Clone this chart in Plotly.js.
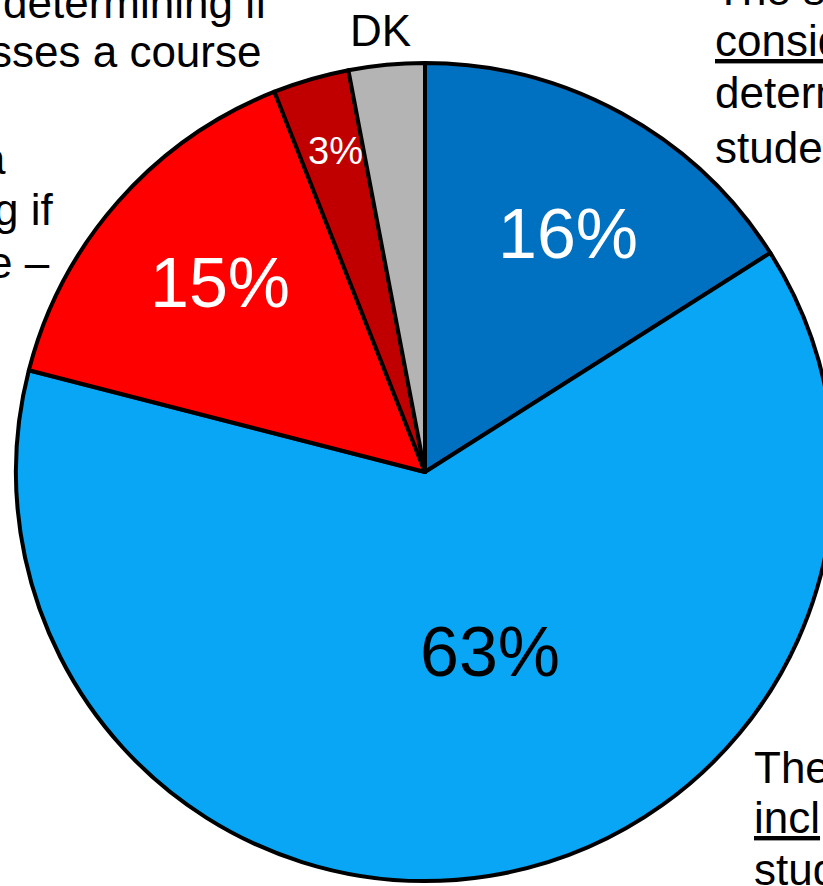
<!DOCTYPE html>
<html>
<head>
<meta charset="utf-8">
<script src="https://cdn.plot.ly/plotly-3.0.1.min.js"></script>
<style>
  html, body { margin: 0; padding: 0; width: 823px; height: 886px; overflow: hidden; background: #fff; }
  #chart { position: absolute; left: 0; top: 0; width: 1000px; height: 1000px; }
</style>
</head>
<body>
<div id="chart"></div>
<script>
// ---- data ----
const categories = ["Sole consideration", "Included consideration", "Major consideration", "Minor consideration", "DK"];
const values = [16, 63, 15, 3, 3];
const sliceColors = ["#0070C0", "#08A6F4", "#FF0000", "#C00000", "#B4B4B4"];
const pctTextColors = ["#FFFFFF", "#000000", "#FFFFFF", "#FFFFFF", null];

// ---- layout helpers (page pixels -> paper coords on a 1000x1000 div) ----
const W = 1000, H = 1000;
const px = x => x / W;
const py = y => 1 - y / H;
const FONT = "Liberation Sans, Arial, sans-serif";

const trace = {
  type: "pie",
  labels: categories,
  values: values,
  sort: false,
  direction: "clockwise",
  rotation: 0,
  textinfo: "none",
  hoverinfo: "none",
  marker: { colors: sliceColors, line: { color: "#000000", width: 4 } },
  domain: { x: [px(16), px(834)], y: [py(881), py(63)] }
};

// percentage labels inside slices
const pctPos = [[568, 234, 70], [490, 652, 70], [220, 283, 70], [335, 151, 38]];
const annotations = [];
pctPos.forEach((p, i) => {
  annotations.push({
    xref: "paper", yref: "paper", x: px(p[0]), y: py(p[1]),
    xanchor: "center", yanchor: "middle", showarrow: false,
    text: values[i] + "%",
    font: { family: FONT, size: p[2], color: pctTextColors[i] }
  });
});

// outside label text lines (partially cropped in the original)
const sideLines = [
  // [text, x, yCenter, anchor]
  ["determining if", 270, 2, "right"],
  ["sses a course", 263, 51, "right"],
  ["a", 8, 158, "right"],
  ["g if", 55, 210, "right"],
  ["e –", 52, 262, "right"],
  ["DK", 380, 30, "center"],
  ["The s", 713, -11, "left"],
  ["<u>consid</u>", 713, 40, "left"],
  ["determ", 713, 93, "left"],
  ["studen", 713, 147, "left"],
  ["The", 752, 767, "left"],
  ["<u>incl</u>", 752, 817, "left"],
  ["stud", 752, 869, "left"]
];
sideLines.forEach(l => {
  annotations.push({
    xref: "paper", yref: "paper", x: px(l[1]), y: py(l[2]),
    xanchor: l[3], yanchor: "middle", showarrow: false,
    text: l[0],
    font: { family: FONT, size: 44, color: "#000000" }
  });
});

const layout = {
  width: W, height: H,
  margin: { l: 0, r: 0, t: 0, b: 0, pad: 0 },
  showlegend: false,
  paper_bgcolor: "#FFFFFF",
  annotations: annotations
};

Plotly.newPlot("chart", [trace], layout, { staticPlot: true, displayModeBar: false });
</script>
</body>
</html>
